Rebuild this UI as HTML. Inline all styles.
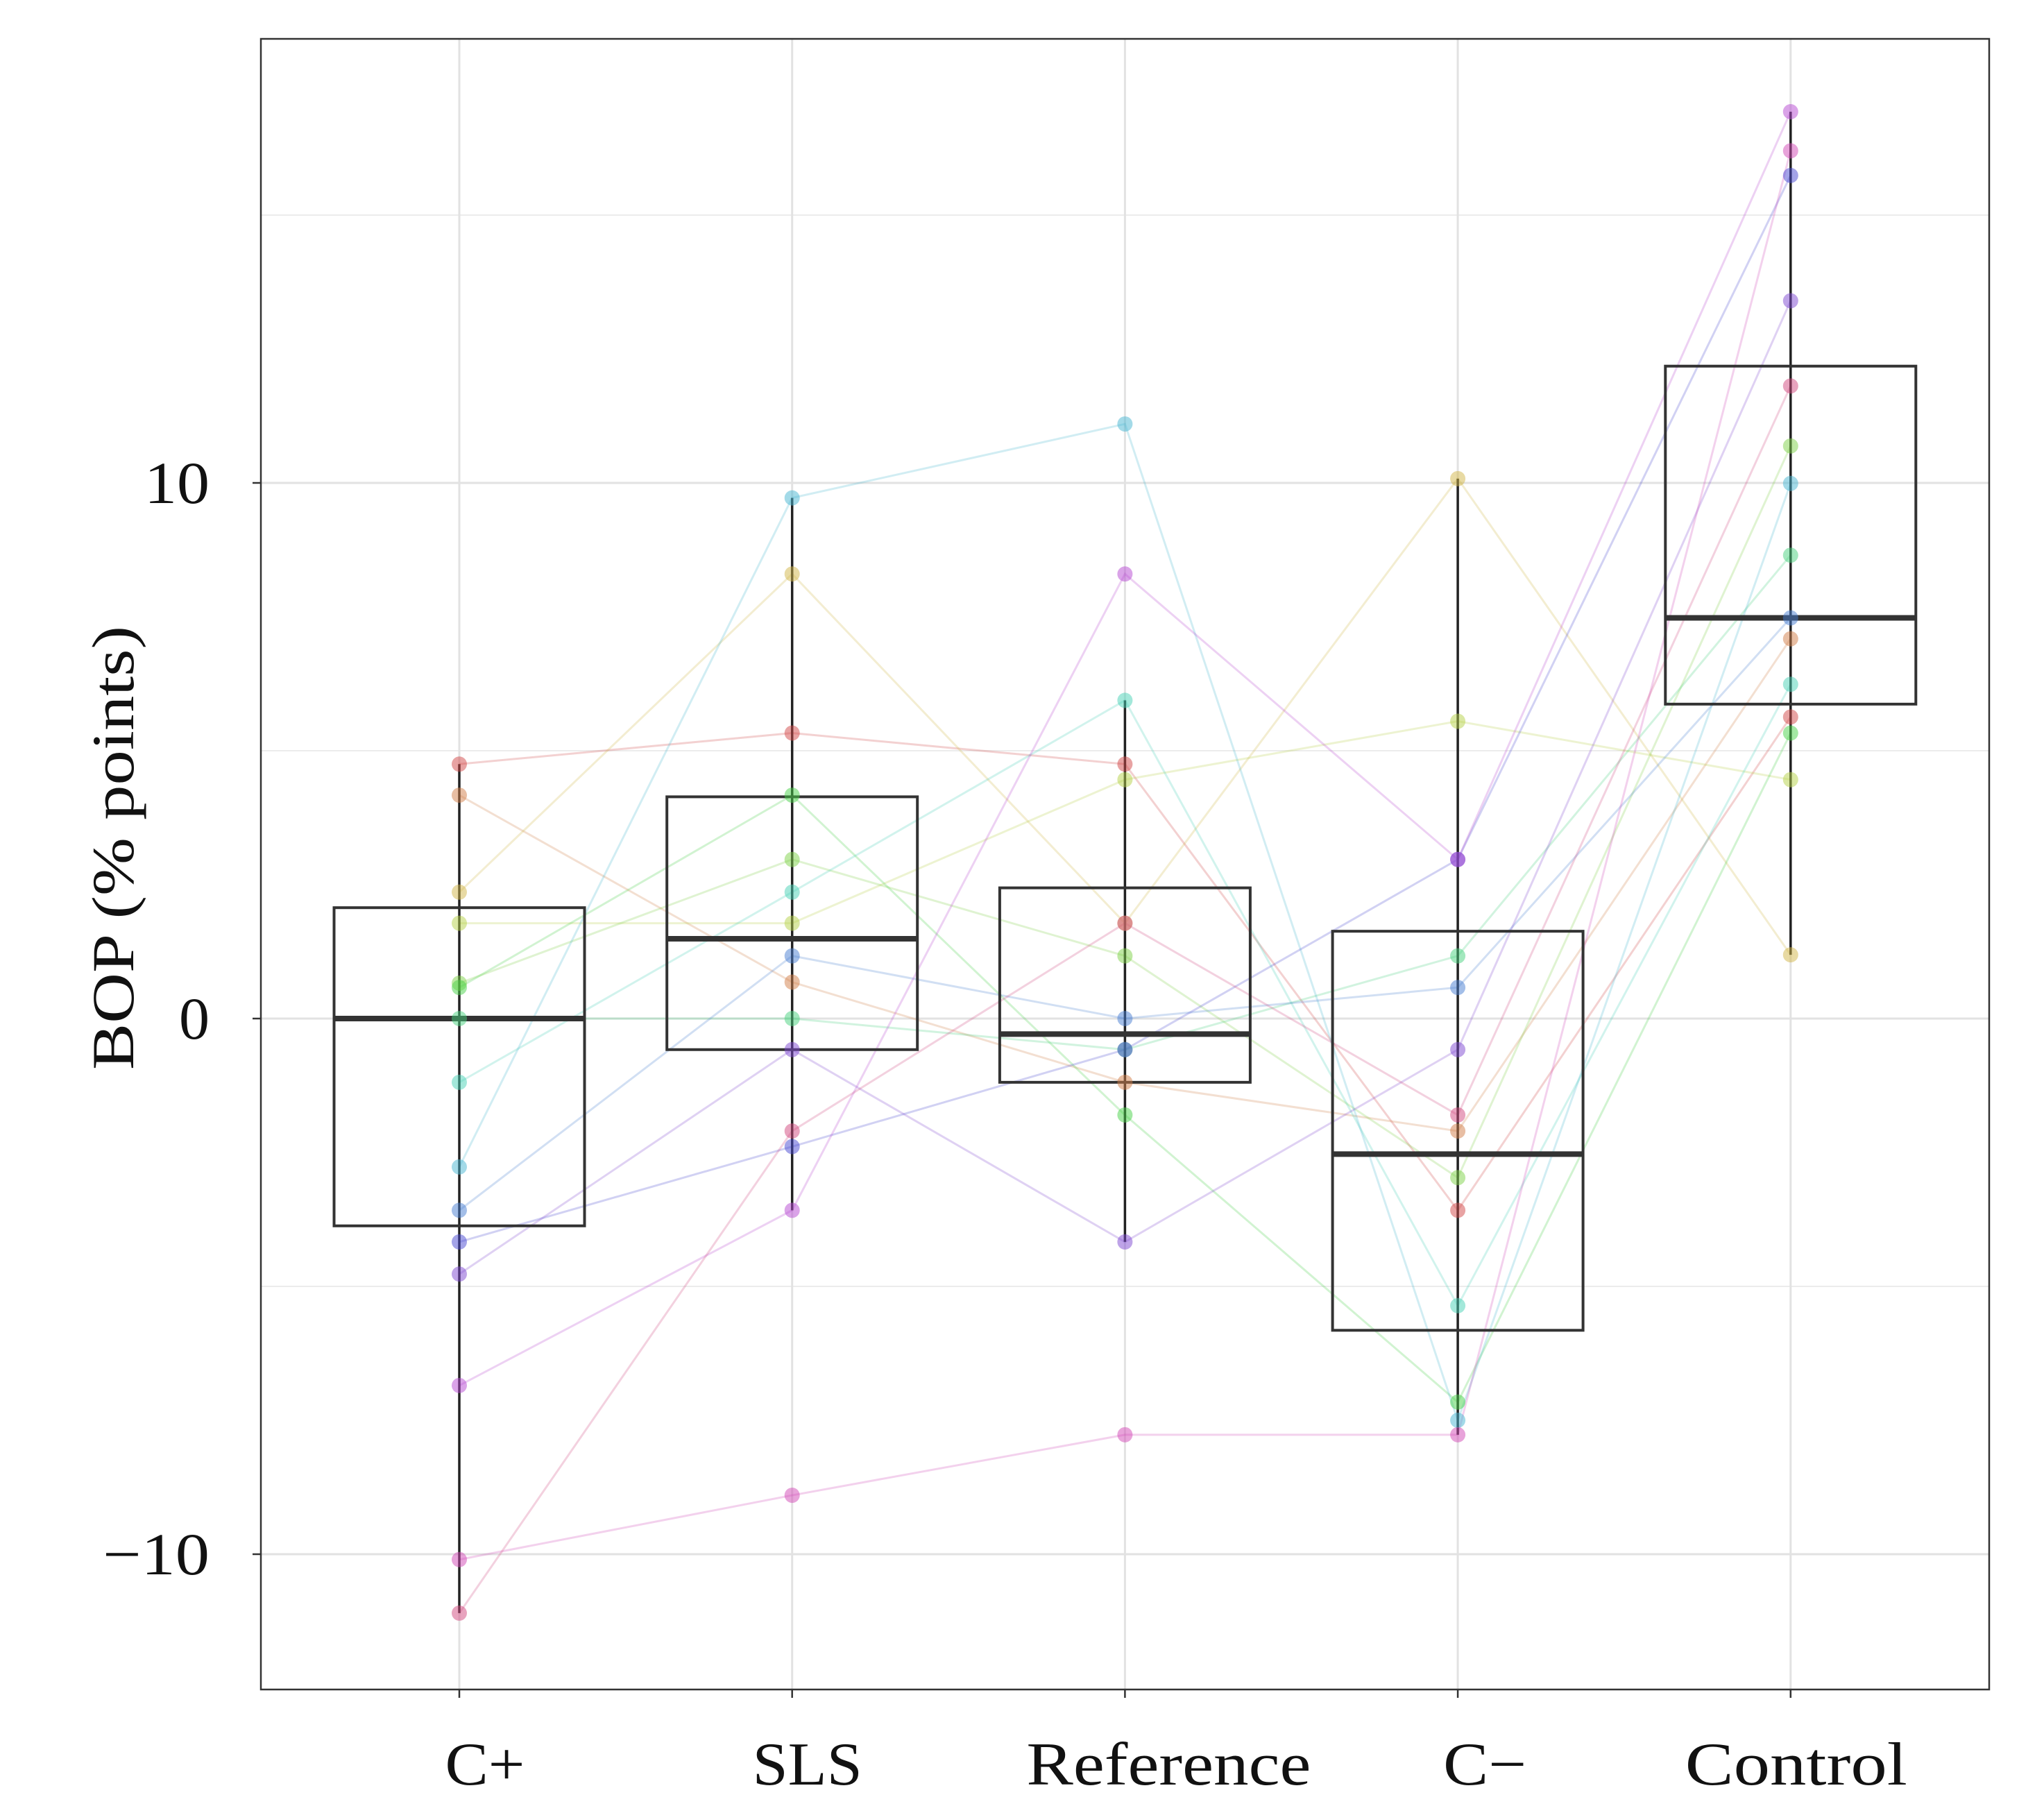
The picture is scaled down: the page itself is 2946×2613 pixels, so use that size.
<!DOCTYPE html>
<html><head><meta charset="utf-8"><style>
html,body{margin:0;padding:0;background:#fff;}
svg{display:block;font-family:"Liberation Serif",serif;}
</style></head><body>
<svg id="chart" width="2946" height="2613" viewBox="0 0 2946 2613">
<rect x="0" y="0" width="2946" height="2613" fill="#fff"/>
<g id="grid"></g>
<g id="lines"></g>
<g id="boxes"></g>
<g id="points"></g>
<rect x="376" y="56" width="2491" height="2379" fill="none" stroke="#333" stroke-width="2.5"/>
<g id="axes"></g>
<text x="0" y="0" transform="translate(192,1222) rotate(-90)" text-anchor="middle" font-size="86" textLength="640" lengthAdjust="spacingAndGlyphs" fill="#111">BOP (% points)</text>
</svg>
<script>
const categories = ["C+", "SLS", "Reference", "C\u2212", "Control"];
const yTicks = [-10, 0, 10];
const yMinor = [-5, 5, 15];
const q1 = [-3.87, -0.58, -1.19, -5.82, 5.87];
const medians = [0, 1.49, -0.29, -2.53, 7.48];
const q3 = [2.07, 4.14, 2.44, 1.63, 12.18];
const whiskLo = [-11.1, -3.58, -4.17, -7.77, 1.19];
const whiskHi = [4.75, 9.72, 5.94, 10.08, 16.93];
// per-subject values across the five conditions
const valsCplus   = [4.75, 4.17, 2.36, 1.78, 0.66, 0.58, 0, -1.19, -2.77, -3.58, -4.17, -4.77, -6.85, -10.1, -11.1];
const valsSLS     = [5.33, 0.68, 8.3, 1.78, 2.97, 4.17, 0, 2.36, 9.72, 1.17, -2.39, -0.58, -3.58, -8.9, -2.1];
const valsRef     = [4.75, -1.19, 1.78, 4.46, 1.17, -1.8, -0.58, 5.94, 11.1, 0, -0.58, -4.17, 8.3, -7.77, 1.78];
const valsCminus  = [-3.58, -2.1, 10.08, 5.55, -2.97, -7.16, 1.17, -5.36, -7.5, 0.58, 2.97, -0.58, 2.97, -7.77, -1.8];
const valsControl = [5.63, 7.09, 1.19, 4.46, 10.69, 5.33, 8.65, 6.24, 9.99, 7.48, 15.74, 13.4, 16.93, 16.2, 11.81];
const series = [valsCplus, valsSLS, valsRef, valsCminus, valsControl];

const NS = "http://www.w3.org/2000/svg";
const PX0 = 376, PX1 = 2867;
const X0 = 662, DX = 479.7;
const xPos = i => X0 + i * DX;
const yPos = v => 1468 - v * 77.2;
const xLabelShift = [37, 22, 63, 39, 8];
const xLabelLen = [115, 158, 410, 120, 320];
function mk(tag, attrs, parent){ const e=document.createElementNS(NS,tag); for(const k in attrs) e.setAttribute(k,attrs[k]); parent.appendChild(e); return e; }
const grid=document.getElementById('grid'), axes=document.getElementById('axes');
yMinor.forEach(v=>{ const l=mk('line',{x1:PX0,x2:PX1,y1:yPos(v),y2:yPos(v),stroke:'#ececec','stroke-width':2},grid);
    });
yTicks.forEach(v=>{ const l=mk('line',{x1:PX0,x2:PX1,y1:yPos(v),y2:yPos(v),stroke:'#e2e2e2','stroke-width':3},grid);
   
  const t=mk('line',{x1:PX0-12,x2:PX0,y1:yPos(v),y2:yPos(v),stroke:'#333','stroke-width':2.5},axes);
   
  const txt = v<0 ? '\u2212'+Math.abs(v) : String(v);
  const tx=mk('text',{x:302,y:yPos(v)+29,'text-anchor':'end','font-size':86,fill:'#111',textLength: txt.length===1?44:(txt.length===2?94:154),lengthAdjust:'spacingAndGlyphs'},axes);
  tx.textContent = txt;
    });
categories.forEach((c,i)=>{ const l=mk('line',{x1:xPos(i),x2:xPos(i),y1:56,y2:2435,stroke:'#e2e2e2','stroke-width':3},grid);
   
  const t=mk('line',{x1:xPos(i),x2:xPos(i),y1:2435,y2:2447,stroke:'#333','stroke-width':2.5},axes);
   
  const tx=mk('text',{x:xPos(i)+xLabelShift[i],y:2572,'text-anchor':'middle','font-size':88,fill:'#111',textLength:xLabelLen[i],lengthAdjust:'spacingAndGlyphs'},axes);
  tx.textContent=c;
    });
const nSub = valsCplus.length;
const colorOf = s => 'hsl(' + Math.round(s*360/nSub) + ',60%,55%)';
const linesG=document.getElementById('lines'), ptsG=document.getElementById('points'), boxG=document.getElementById('boxes');
for(let s=0;s<nSub;s++){
  const pts = series.map((arr,i)=>xPos(i)+','+yPos(arr[s])).join(' ');
  const pl=mk('polyline',{points:pts,fill:'none',stroke:colorOf(s),'stroke-width':3,'stroke-opacity':0.25},linesG);
   
}
categories.forEach((c,i)=>{
  const x=xPos(i), w=361;
  const wl=mk('line',{x1:x,x2:x,y1:yPos(whiskHi[i]),y2:yPos(whiskLo[i]),stroke:'#222','stroke-width':3.5},boxG);
   
  const r=mk('rect',{x:x-w/2,y:yPos(q3[i]),width:w,height:yPos(q1[i])-yPos(q3[i]),fill:'none',stroke:'#333','stroke-width':4},boxG);
   
  const m=mk('line',{x1:x-w/2,x2:x+w/2,y1:yPos(medians[i]),y2:yPos(medians[i]),stroke:'#333','stroke-width':8},boxG);
   
});
for(let s=0;s<nSub;s++){
  series.forEach((arr,i)=>{
    const p=mk('circle',{cx:xPos(i),cy:yPos(arr[s]),r:11,fill:colorOf(s),'fill-opacity':0.5},ptsG);
     
  });
}
</script>
</body></html>
